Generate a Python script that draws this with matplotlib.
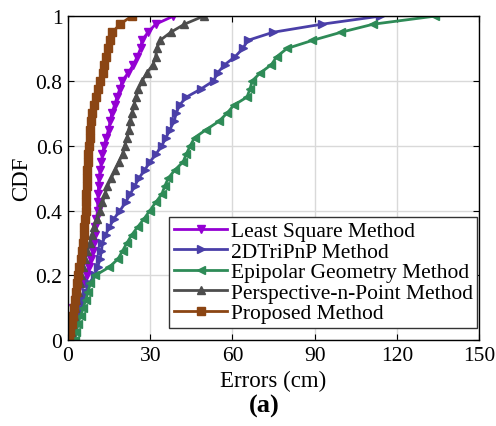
import numpy as np
import matplotlib
matplotlib.use('Agg')
import matplotlib.pyplot as plt

plt.rcParams['font.family'] = 'Liberation Serif'

# CDF levels (y) shared by all curves
cdf = np.linspace(0, 1, 41)

# errors (cm) at each CDF level
least_square = [0.5, 1.2, 1.5, 1.8, 2.0, 2.5, 3.2, 5.5, 6.8, 7.6, 8.3, 9.1, 9.4, 9.7,
                10.0, 10.4, 10.8, 10.9, 11.0, 11.2, 11.3, 11.8, 12.2, 12.6, 13.2, 14.0,
                14.8, 15.4, 16.0, 17.0, 17.9, 18.9, 19.8, 22.0, 23.9, 25.3, 26.5, 27.0,
                29.2, 32.0, 38.5]
tri_pnp = [2.4, 3.0, 3.5, 4.0, 4.8, 5.7, 6.5, 7.6, 9.9, 10.8, 11.7, 12.2, 12.6, 13.7,
           15.2, 16.8, 19.0, 21.0, 22.7, 24.3, 25.9, 28.0, 29.9, 32.2, 34.2, 35.8,
           37.2, 38.7, 39.5, 40.7, 43.2, 48.5, 53.1, 54.6, 57.2, 61.0, 63.8, 65.6,
           74.8, 92.7, 114.0]
epipolar = [2.4, 3.0, 3.6, 4.6, 5.6, 6.5, 7.3, 8.2, 10.0, 15.0, 18.2, 19.9, 21.5, 23.3,
            25.5, 27.8, 29.9, 32.0, 34.2, 35.3, 36.6, 39.0, 42.0, 43.2, 44.6, 46.2,
            50.5, 55.0, 58.0, 60.5, 65.3, 66.4, 67.2, 70.2, 74.2, 76.2, 79.9, 89.2,
            99.6, 111.4, 134.0]
pnp = [0.4, 1.0, 1.6, 2.1, 2.5, 3.0, 3.6, 4.3, 4.9, 5.5, 6.2, 7.1, 8.0, 8.7, 9.5,
       10.6, 11.7, 12.6, 13.5, 14.4, 15.8, 17.2, 18.6, 19.9, 20.7, 21.6, 22.2, 22.8,
       23.4, 24.1, 24.8, 25.7, 27.0, 28.8, 31.0, 32.0, 32.4, 33.6, 37.5, 42.5, 49.5]
proposed = [0.5, 0.9, 1.3, 1.7, 2.2, 2.6, 3.0, 3.3, 3.7, 4.1, 4.6, 5.0, 5.4, 5.7, 6.0,
            6.3, 6.5, 6.6, 6.7, 6.8, 6.9, 7.0, 7.2, 7.4, 7.6, 7.9, 8.2, 8.5, 8.8, 9.5,
            10.2, 10.9, 11.8, 12.8, 13.3, 14.0, 14.6, 15.2, 16.2, 19.0, 23.3]

labels = ['Least Square Method', '2DTriPnP Method', 'Epipolar Geometry Method',
          'Perspective-n-Point Method', 'Proposed Method']
colors = ['#9400d3', '#4a3fa8', '#2e8b57', '#4d4d4d', '#8b4513']
markers = ['v', '>', '<', '^', 's']
series = [least_square, tri_pnp, epipolar, pnp, proposed]

fig = plt.figure(figsize=(4.96, 4.27), dpi=100)
ax = fig.add_axes([0.137, 0.201, 0.829, 0.759])

for x, lab, c, m in zip(series, labels, colors, markers):
    ax.plot(x, cdf, color=c, marker=m, markersize=5.5, linewidth=2, label=lab)

ax.set_xlim(0, 150)
ax.set_ylim(0, 1)
ax.set_xticks(range(0, 151, 30))
ax.set_yticks([0, 0.2, 0.4, 0.6, 0.8, 1])
ax.set_yticklabels(['0', '0.2', '0.4', '0.6', '0.8', '1'])
ax.grid(True, color='#d9d9d9', linewidth=1)
ax.set_axisbelow(True)
ax.tick_params(direction='in', top=True, right=True, labelsize=15.5, length=4, pad=4)
for s in ax.spines.values():
    s.set_linewidth(1)
ax.set_xlabel('Errors (cm)', fontsize=16.5, labelpad=4)
ax.set_ylabel('CDF', fontsize=16.5, labelpad=2)

leg = ax.legend(loc='lower right', bbox_to_anchor=(1.0, 0.032), fontsize=15.5,
                handlelength=2.5, handletextpad=0.15, borderpad=0.2,
                labelspacing=0.02, borderaxespad=0.1,
                fancybox=False, framealpha=1, edgecolor='#333333')
leg.get_frame().set_linewidth(1)

fig.text(0.532, 0.048, '(a)', fontsize=19, fontweight='bold', ha='center', va='center')

fig.savefig('out.png', dpi=100)
